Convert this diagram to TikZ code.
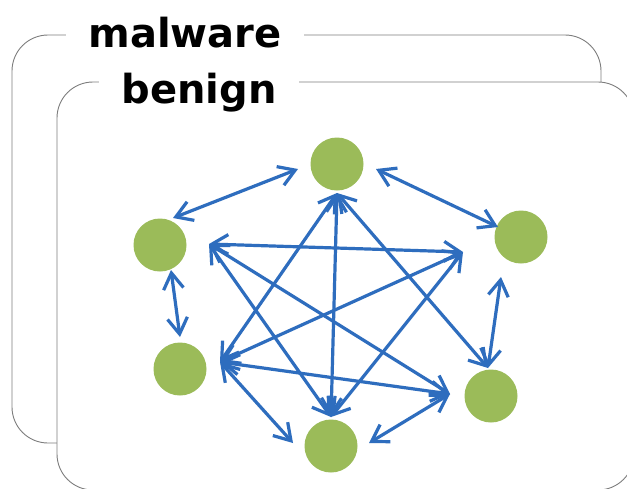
\documentclass[tikz,border=0pt]{standalone}
\usepackage{fontspec}
\setmainfont{DejaVu Sans}
\usetikzlibrary{arrows.meta}
\definecolor{framegray}{RGB}{125,125,125}
\definecolor{dotgreen}{RGB}{155,187,89}
\definecolor{linkblue}{RGB}{46,109,190}
\begin{document}
\begin{tikzpicture}[x=1pt,y=-1pt,
  frame/.style={draw=framegray,line width=0.9pt,rounded corners=36pt},
  host/.style={circle,fill=dotgreen,minimum size=53pt,inner sep=0pt},
  link/.style={draw=linkblue,line width=3.2pt,
    {Straight Barb[length=16pt,width=20pt]}-{Straight Barb[length=16pt,width=20pt]}},
  title/.style={fill=white,inner xsep=22pt,inner ysep=2pt,anchor=base,
    font=\bfseries\fontsize{40}{42}\selectfont}]
\useasboundingbox (0,0) rectangle (627,488);

% outer group frame
\draw[frame] (12,35) rectangle (601,443);
\node[title] (tmal) at (185,47) {malware};

% inner group frame
\draw[frame,fill=white] (57,82) rectangle (634,490);
\node[title] (tben) at (199,103) {benign};

% hosts
\node[host] (T)  at (337,164) {};
\node[host] (UL) at (160,245) {};
\node[host] (UR) at (521,237) {};
\node[host] (LL) at (180,369) {};
\node[host] (B)  at (331,446) {};
\node[host] (LR) at (491,396) {};

% inner meeting points of the links
\coordinate (hT)  at (337,193);
\coordinate (hUL) at (209,244);
\coordinate (hUR) at (463,252);
\coordinate (hLL) at (220,362);
\coordinate (hB)  at (331,417);
\coordinate (hLR) at (450,394);

% outer ends of the ring links
\coordinate (ULt) at (173,218);
\coordinate (Tl)  at (298,169);
\coordinate (Tr)  at (376,169);
\coordinate (URt) at (498,227);
\coordinate (URb) at (501,277);
\coordinate (LRt) at (488,368);
\coordinate (Br)  at (369,443);
\coordinate (Bl)  at (293,443);
\coordinate (ULb) at (171,270);
\coordinate (LLt) at (180,337);

% ring links
\draw[link] (ULt) -- (Tl);
\draw[link] (Tr) -- (URt);
\draw[link] (URb) -- (LRt);
\draw[link] (hLR) -- (Br);
\draw[link] (Bl) -- (hLL);
\draw[link] (ULb) -- (LLt);

% cross links
\draw[link] (hT) -- (hLL);
\draw[link] (hT) -- (hB);
\draw[link] (hT) -- (LRt);
\draw[link] (hUL) -- (hUR);
\draw[link] (hUL) -- (hLR);
\draw[link] (hUL) -- (hB);
\draw[link] (hUR) -- (hLL);
\draw[link] (hUR) -- (hB);
\draw[link] (hLL) -- (hLR);
\end{tikzpicture}
\end{document}
